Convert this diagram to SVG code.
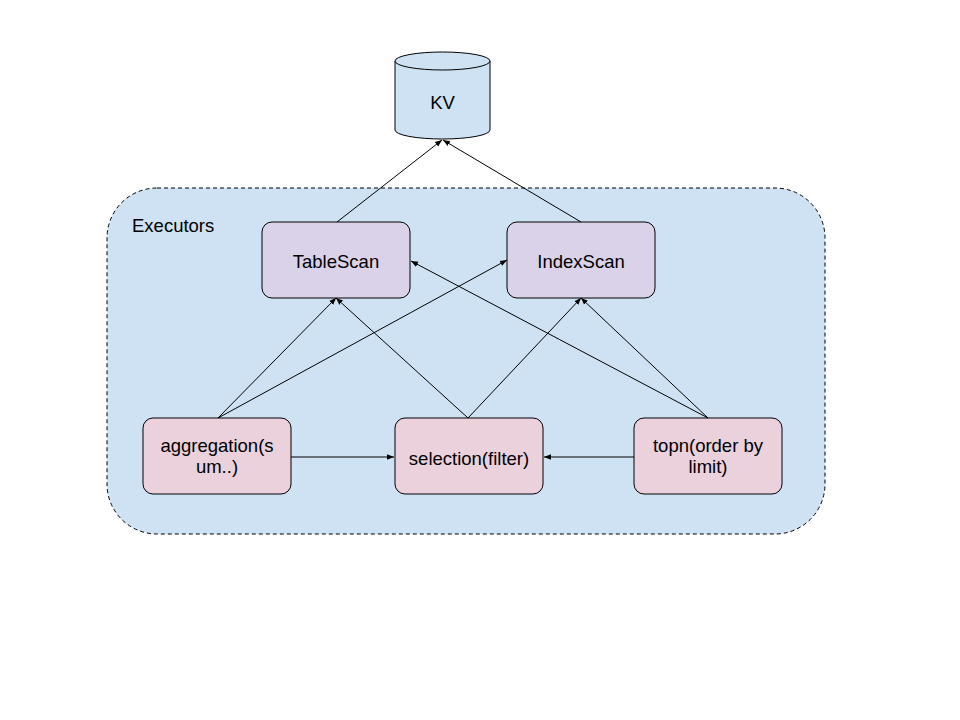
<svg xmlns="http://www.w3.org/2000/svg" width="960" height="720" viewBox="0 0 960 720">
<defs>
<style>
.node{stroke:#000;stroke-width:1}
.scan{fill:#d9d2e9}
.op{fill:#ead1dc}
.t{font-family:"Liberation Sans",Arial,sans-serif;font-size:18.5px;fill:#000;text-anchor:middle}
.edge{stroke:#000;stroke-width:1;fill:none;marker-end:url(#arr)}
</style>
<marker id="arr" viewBox="0 0 10 10" refX="10" refY="5" markerWidth="7" markerHeight="7" markerUnits="userSpaceOnUse" orient="auto">
<path d="M0,1 L10,5 L0,9 z" fill="#000"/>
</marker>
</defs>
<rect width="960" height="720" fill="#fff"/>
<g id="executors">
<rect x="107" y="188" width="718" height="346" rx="50" ry="50" fill="#cfe2f3" stroke="#000" stroke-width="1" stroke-dasharray="4,3"/>
<text x="132" y="232" style="font-family:'Liberation Sans',Arial,sans-serif;font-size:18.5px">Executors</text>
</g>
<g id="kv">
<path d="M395,61 L395,130 A47.5,9 0 0 0 490,130 L490,61" fill="#cfe2f3" stroke="#000" stroke-width="1"/>
<ellipse cx="442.5" cy="61" rx="47.5" ry="9" fill="#cfe2f3" stroke="#000" stroke-width="1"/>
<text class="t" x="442.5" y="109">KV</text>
</g>
<g id="tablescan">
<rect class="node scan" x="262" y="222" width="148" height="76" rx="10"/>
<text class="t" x="336" y="268">TableScan</text>
</g>
<g id="indexscan">
<rect class="node scan" x="507" y="222" width="148" height="76" rx="10"/>
<text class="t" x="581" y="268">IndexScan</text>
</g>
<g id="aggregation">
<rect class="node op" x="143" y="418" width="148" height="76" rx="10"/>
<text class="t" x="217" y="452">aggregation(s</text>
<text class="t" x="217" y="473">um..)</text>
</g>
<g id="selection">
<rect class="node op" x="395" y="418" width="148" height="76" rx="10"/>
<text class="t" x="469" y="465">selection(filter)</text>
</g>
<g id="topn">
<rect class="node op" x="634" y="418" width="148" height="76" rx="10"/>
<text class="t" x="708" y="452">topn(order by</text>
<text class="t" x="708" y="473">limit)</text>
</g>
<g id="connectors">
<line class="edge" x1="337" y1="222" x2="442" y2="140"/>
<line class="edge" x1="581" y1="222" x2="443" y2="140"/>
<line class="edge" x1="218" y1="418" x2="336" y2="298"/>
<line class="edge" x1="218" y1="418" x2="507" y2="260"/>
<line class="edge" x1="468" y1="418" x2="336" y2="298"/>
<line class="edge" x1="468" y1="418" x2="581" y2="298"/>
<line class="edge" x1="708" y1="418" x2="581" y2="298"/>
<line class="edge" x1="708" y1="418" x2="411" y2="261"/>
<line class="edge" x1="291" y1="457" x2="394" y2="457"/>
<line class="edge" x1="634" y1="457" x2="544" y2="457"/>
</g>
</svg>
